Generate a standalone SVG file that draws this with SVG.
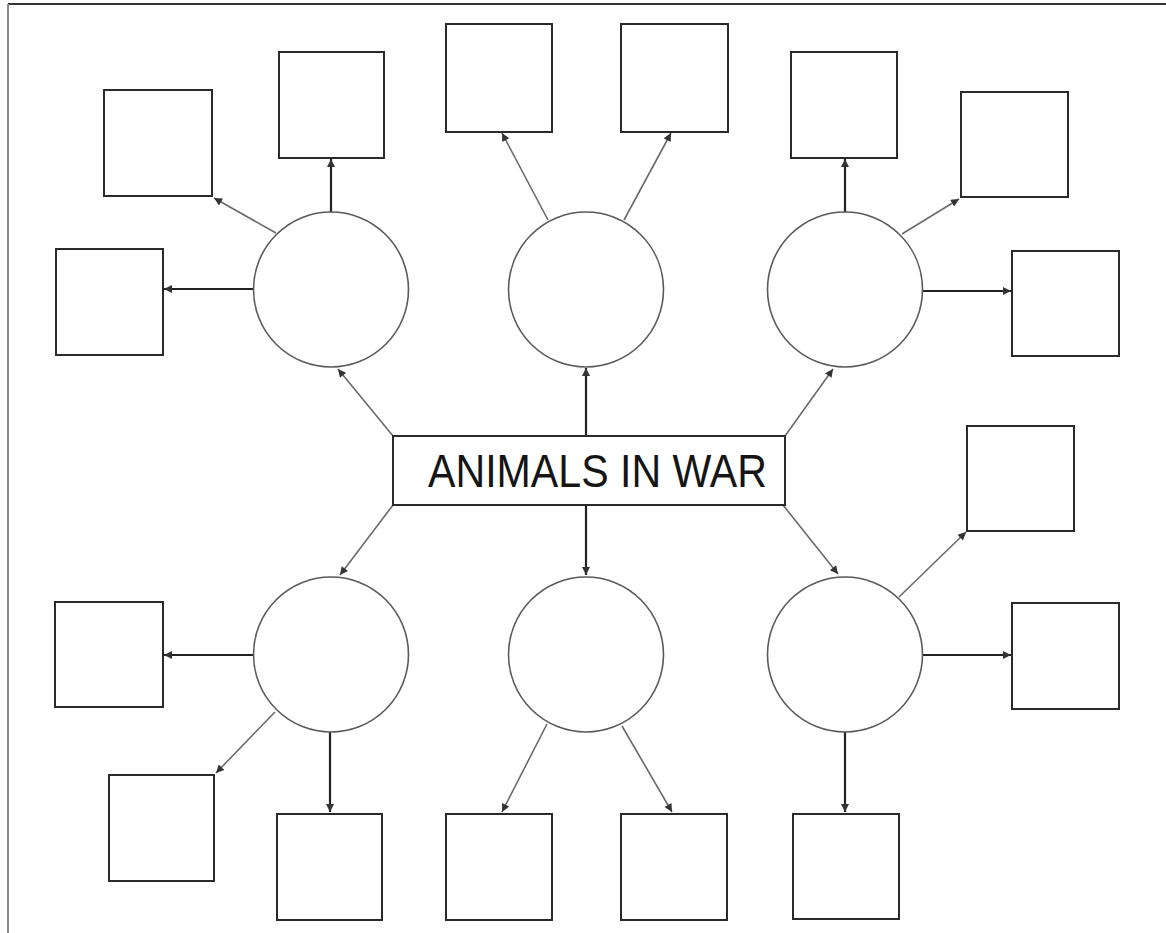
<svg xmlns="http://www.w3.org/2000/svg" width="1166" height="933" viewBox="0 0 1166 933">
  <style>
    .box { fill: #ffffff; stroke: #2a2a2a; stroke-width: 2; }
    .hub { fill: #ffffff; stroke: #5a5a5a; stroke-width: 1.6; }
    .link { fill: none; stroke: #6a6a6a; stroke-width: 1.6; marker-end: url(#arrow); }
    .link.strong { stroke: #222222; stroke-width: 2.2; }
    .frame { fill: none; stroke-width: 2; }
    .title { font-family: "Liberation Sans", Arial, sans-serif; font-size: 47px; fill: #151515; }
  </style>
  <defs>
    <marker id="arrow" viewBox="0 0 10 10" refX="10" refY="5" markerWidth="10" markerHeight="8" markerUnits="userSpaceOnUse" orient="auto">
      <path d="M0,0 L10,5 L0,10 z" fill="#333333"/>
    </marker>
  </defs>

  <rect width="1166" height="933" fill="#ffffff"/>

  <!-- page frame -->
  <line class="frame" x1="8" y1="4" x2="1166" y2="4" stroke="#333333"/>
  <line class="frame" x1="8" y1="4" x2="8" y2="933" stroke="#8a8a8a"/>

  <!-- connectors -->
  <g id="connectors">
    <!-- centre box to hubs -->
    <line class="link" x1="393" y1="436" x2="338" y2="369"/>
    <line class="link strong" x1="586" y1="436" x2="586" y2="368"/>
    <line class="link" x1="785" y1="436" x2="833" y2="369"/>
    <line class="link" x1="393" y1="505" x2="340" y2="575"/>
    <line class="link strong" x1="586" y1="505" x2="586" y2="575"/>
    <line class="link" x1="783" y1="505" x2="838" y2="574"/>

    <!-- upper-left hub -->
    <line class="link strong" x1="331" y1="212" x2="331" y2="159"/>
    <line class="link strong" x1="253" y1="289" x2="164" y2="289"/>
    <line class="link" x1="276" y1="233" x2="214" y2="198"/>

    <!-- upper-middle hub -->
    <line class="link" x1="548" y1="220" x2="502" y2="133"/>
    <line class="link" x1="624" y1="220" x2="671" y2="133"/>

    <!-- upper-right hub -->
    <line class="link strong" x1="845" y1="212" x2="845" y2="159"/>
    <line class="link" x1="902" y1="234" x2="959" y2="199"/>
    <line class="link strong" x1="922" y1="291" x2="1011" y2="291"/>

    <!-- lower-left hub -->
    <line class="link strong" x1="254" y1="655" x2="164" y2="655"/>
    <line class="link" x1="275" y1="712" x2="216" y2="773"/>
    <line class="link strong" x1="330" y1="732" x2="330" y2="812"/>

    <!-- lower-middle hub -->
    <line class="link" x1="547" y1="724" x2="502" y2="812"/>
    <line class="link" x1="622" y1="726" x2="672" y2="812"/>

    <!-- lower-right hub -->
    <line class="link" x1="899" y1="597" x2="966" y2="532"/>
    <line class="link strong" x1="922" y1="655" x2="1011" y2="655"/>
    <line class="link strong" x1="845" y1="732" x2="845" y2="812"/>
  </g>

  <!-- centre title -->
  <g id="title">
    <rect class="box" x="393" y="436" width="392" height="69"/>
    <text class="title" x="428" y="487" textLength="339" lengthAdjust="spacingAndGlyphs">ANIMALS IN WAR</text>
  </g>

  <!-- hubs -->
  <g id="hub-upper-left"><circle class="hub" cx="331" cy="289.5" r="77.5"/></g>
  <g id="hub-upper-middle"><circle class="hub" cx="586" cy="289.5" r="77.5"/></g>
  <g id="hub-upper-right"><circle class="hub" cx="845" cy="289.5" r="77.5"/></g>
  <g id="hub-lower-left"><circle class="hub" cx="331" cy="654.5" r="77.5"/></g>
  <g id="hub-lower-middle"><circle class="hub" cx="586" cy="654.5" r="77.5"/></g>
  <g id="hub-lower-right"><circle class="hub" cx="845" cy="654.5" r="77.5"/></g>

  <!-- answer boxes, upper half -->
  <g id="box-ul-1"><rect class="box" x="104" y="90" width="108" height="106"/></g>
  <g id="box-ul-2"><rect class="box" x="279" y="52" width="105" height="106"/></g>
  <g id="box-ul-3"><rect class="box" x="56" y="249" width="107" height="106"/></g>
  <g id="box-um-1"><rect class="box" x="446" y="24" width="106" height="108"/></g>
  <g id="box-um-2"><rect class="box" x="621" y="24" width="107" height="108"/></g>
  <g id="box-ur-1"><rect class="box" x="791" y="52" width="106" height="106"/></g>
  <g id="box-ur-2"><rect class="box" x="961" y="92" width="107" height="105"/></g>
  <g id="box-ur-3"><rect class="box" x="1012" y="251" width="107" height="105"/></g>

  <!-- answer boxes, lower half -->
  <g id="box-ll-1"><rect class="box" x="55" y="602" width="108" height="105"/></g>
  <g id="box-ll-2"><rect class="box" x="109" y="775" width="105" height="106"/></g>
  <g id="box-ll-3"><rect class="box" x="277" y="814" width="105" height="106"/></g>
  <g id="box-lm-1"><rect class="box" x="446" y="814" width="106" height="106"/></g>
  <g id="box-lm-2"><rect class="box" x="621" y="814" width="106" height="106"/></g>
  <g id="box-lr-1"><rect class="box" x="967" y="426" width="107" height="105"/></g>
  <g id="box-lr-2"><rect class="box" x="1012" y="603" width="107" height="106"/></g>
  <g id="box-lr-3"><rect class="box" x="793" y="814" width="106" height="105"/></g>
</svg>
